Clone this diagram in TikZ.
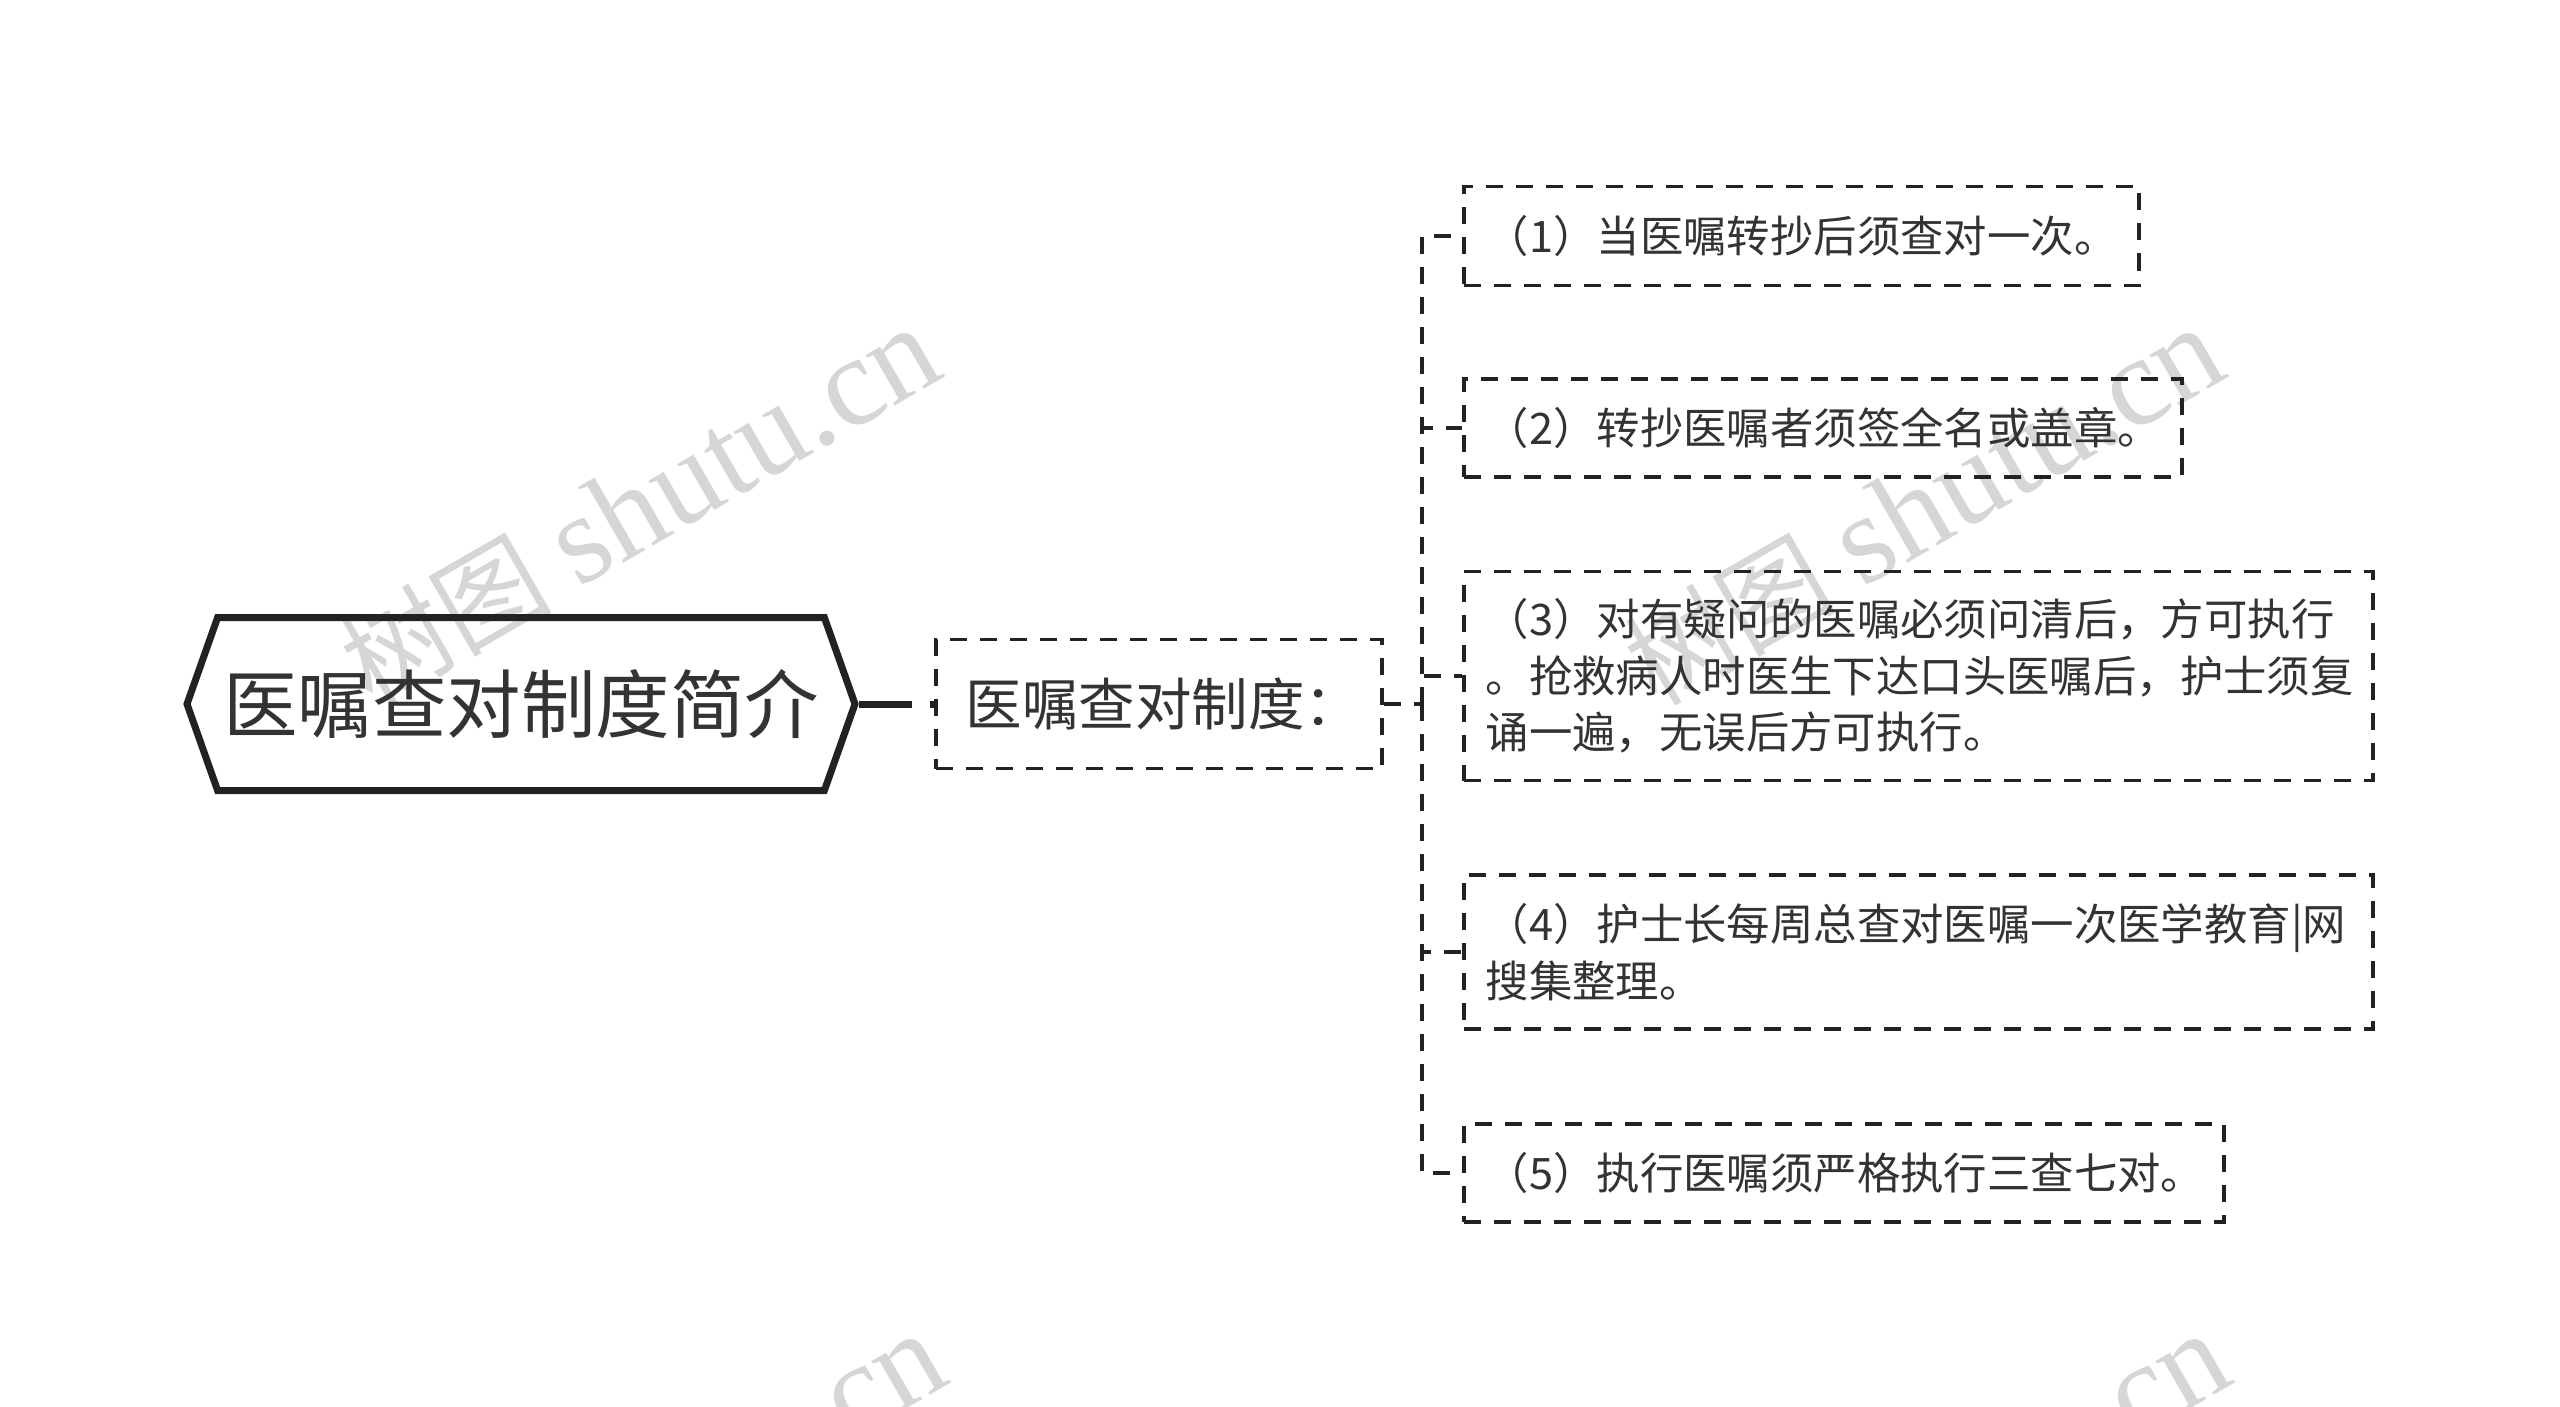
\documentclass[tikz,border=0pt]{standalone}
\usepackage{fontspec}
\usetikzlibrary{shapes.symbols}
\newfontfamily\cjk{Noto Sans CJK SC}
\newfontfamily\markfont{Liberation Serif}
\definecolor{inktext}{HTML}{333333}
\definecolor{inkline}{HTML}{222222}
\definecolor{markgray}{HTML}{D6D6D6}
\newcommand{\markline}{{\cjk\fontsize{106}{106}\selectfont 树图}\hspace{26pt}{\markfont\fontsize{127}{127}\selectfont shutu.cn}}
\tikzset{
  titlebox/.style={draw=inkline,line width=7pt,signal,signal to=east and west,signal pointer angle=141,minimum width=668pt,minimum height=173pt,inner sep=0pt,text=inktext,font=\cjk\fontsize{74.5}{80}\selectfont},
  subbox/.style={draw=inkline,line width=3.5pt,dash pattern=on 17pt off 13pt,anchor=west,minimum height=129pt,inner xsep=30pt,inner ysep=0pt,align=left,text=inktext,font=\cjk\fontsize{56.5}{64}\selectfont},
  leafbox/.style={draw=inkline,line width=3.5pt,dash pattern=on 17pt off 13pt,anchor=west,inner xsep=22pt,inner ysep=0pt,align=left,text=inktext,font=\cjk\fontsize{43.4}{56.5}\selectfont},
  linkline/.style={draw=inkline,line width=3.5pt,dash pattern=on 17pt off 13pt},
  mainlink/.style={draw=inkline,line width=7pt,dash pattern=on 53pt off 18pt},
  markword/.style={text=markgray,rotate=30,anchor=base west,inner sep=0pt},
}
\begin{document}
\begin{tikzpicture}[x=1pt,y=-1pt]
    \useasboundingbox (0,0) rectangle (2560,1407);
    \clip (0,0) rectangle (2560,1407);
    % watermark
    \node[markword] (marka) at (372,708) {\markline};
    \node[markword] (markb) at (1656,708) {\markline};
    \node[markword] (markc) at (378,1714) {\markline};
    \node[markword] (markd) at (1662,1714) {\markline};
    % boxes
    \node[titlebox] (title) at (521,704) {医嘱查对制度简介};
    \node[subbox,text width=386pt] (sub) at (934,704) {医嘱查对制度：};
    \node[leafbox,minimum height=99pt,text width=631pt] (leafa) at (1462,236) {（1）当医嘱转抄后须查对一次。};
    \node[leafbox,minimum height=98pt,text width=674pt] (leafb) at (1462,428) {（2）转抄医嘱者须签全名或盖章。};
    \node[leafbox,minimum height=209pt,text width=865pt] (leafc) at (1462,676) {（3）对有疑问的医嘱必须问清后，方可执行\\。抢救病人时医生下达口头医嘱后，护士须复\\诵一遍，无误后方可执行。};
    \node[leafbox,minimum height=154pt,text width=865pt] (leafd) at (1462,952) {（4）护士长每周总查对医嘱一次医学教育|网\\搜集整理。};
    \node[leafbox,minimum height=98pt,text width=716pt] (leafe) at (1462,1173) {（5）执行医嘱须严格执行三查七对。};
    % links
    \coordinate (hub) at (1422,704);
    \draw[mainlink] (title.east) -- (sub.west);
    \draw[linkline] (sub.east) -- (hub);
    \draw[linkline] (hub) |- (leafa.west);
    \draw[linkline] (hub) |- (leafb.west);
    \draw[linkline] (hub) |- (leafc.west);
    \draw[linkline] (hub) |- (leafd.west);
    \draw[linkline] (hub) |- (leafe.west);
\end{tikzpicture}
\end{document}
